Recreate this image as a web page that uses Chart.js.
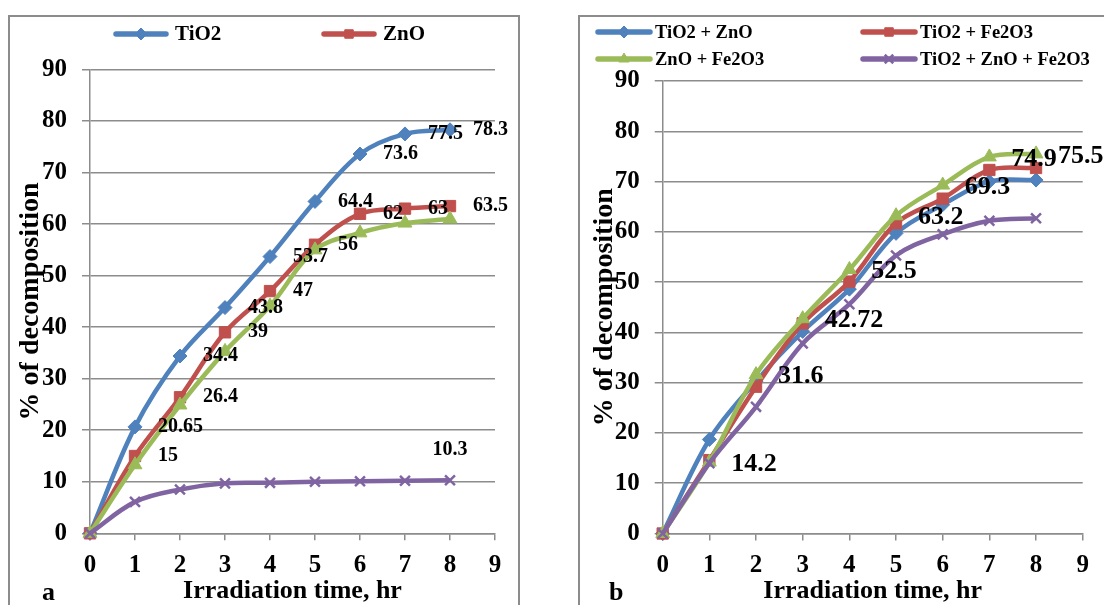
<!DOCTYPE html>
<html><head><meta charset="utf-8">
<script src="https://cdn.jsdelivr.net/npm/chart.js@4/dist/chart.umd.min.js"></script>
<style>
html,body{margin:0;padding:0;background:#fff;width:1104px;height:605px;overflow:hidden;position:relative;}
.frame{position:absolute;border:2px solid #8c8c8c;box-sizing:border-box;}
#frameA{left:8px;top:15px;width:512px;height:640px;}
#frameB{left:578px;top:15px;width:580px;height:640px;}
.wrap{position:absolute;}
#wrapA{left:11px;top:18px;width:506px;height:587px;}
#wrapB{left:580px;top:18px;width:524px;height:587px;}
.tag{position:absolute;font:bold 26px "Liberation Serif",serif;line-height:1;color:#000;}
</style></head>
<body>
<div class="frame" id="frameA"></div>
<div class="frame" id="frameB"></div>
<div class="wrap" id="wrapA"><canvas id="cA" width="506" height="587"></canvas></div>
<div class="wrap" id="wrapB"><canvas id="cB" width="524" height="587"></canvas></div>
<div class="tag" style="left:42px;top:579px">a</div>
<div class="tag" style="left:609px;top:579px">b</div>
<script>
// ---- data ----
const hours = [0, 1, 2, 3, 4, 5, 6, 7, 8];
// panel a
const aTiO2   = [0, 20.65, 34.4, 43.8, 53.7, 64.4, 73.6, 77.5, 78.3];
const aZnO    = [0, 15, 26.4, 39, 47, 56, 62, 63, 63.5];
const aThird  = [0, 13.3, 24.9, 35.3, 44.1, 55.0, 58.3, 60.2, 61.0];
const aFourth = [0, 6.1, 8.5, 9.7, 9.8, 10.0, 10.1, 10.2, 10.3];
// panel b
const bTiO2ZnO     = [0, 18.7, 30.3, 40.2, 48.6, 59.7, 65.4, 70.0, 70.3];
const bTiO2Fe2O3   = [0, 14.6, 29.2, 41.8, 50.1, 61.7, 66.6, 72.3, 72.7];
const bZnOFe2O3    = [0, 14.2, 31.6, 42.72, 52.5, 63.2, 69.3, 74.9, 75.5];
const bTernary     = [0, 14.0, 25.2, 37.8, 45.6, 55.3, 59.5, 62.2, 62.7];
const namesA = ['TiO2', 'ZnO', 'Series 3', 'Series 4'];
const namesB = ['TiO2 + ZnO', 'TiO2 + Fe2O3', 'ZnO + Fe2O3', 'TiO2 + ZnO + Fe2O3'];
const xTitle = 'Irradiation time, hr';
const yTitle = '% of decomposition';

// ---- styles ----
const FONT = '"Liberation Serif", "Times New Roman", serif';
const COLORS = ['#4F81BD', '#C0504D', '#9BBB59', '#8064A2'];
const STYLES = ['rectRot', 'rect', 'triangle', 'crossRot'];
const RADII = [7, 8, 8, 7];
const GRID = '#8c8c8c';

function pts(vals) { return hours.map((h, i) => ({x: h, y: vals[i]})); }

function makeDatasets(names, series) {
  return series.map((vals, i) => ({
    label: names[i],
    data: pts(vals),
    borderColor: COLORS[i],
    backgroundColor: COLORS[i],
    pointStyle: STYLES[i],
    pointRadius: RADII[i],
    pointBorderWidth: i === 3 ? 2.5 : 1,
    pointBackgroundColor: COLORS[i],
    pointBorderColor: COLORS[i],
    borderWidth: 4.5,
    tension: 0.35,
    clip: false,
    order: -i
  }));
}

const valueLabels = {
  id: 'valueLabels',
  afterDatasetsDraw(chart, args, opts) {
    const ctx = chart.ctx;
    (opts.sets || []).forEach(s => {
      const meta = chart.getDatasetMeta(s.dataset);
      const data = chart.data.datasets[s.dataset].data;
      ctx.save();
      ctx.font = 'bold ' + s.size + 'px ' + FONT;
      ctx.fillStyle = '#000';
      ctx.textBaseline = 'middle';
      meta.data.forEach((pt, i) => {
        if (s.points.indexOf(i) < 0) return;
        const txt = String(data[i].y);
        if (s.pos === 'right') {
          ctx.textAlign = 'left';
          ctx.fillText(txt, pt.x + s.dx, pt.y + (s.dy || 0));
        } else {
          ctx.textAlign = 'center';
          ctx.fillText(txt, pt.x, pt.y - s.dy);
        }
      });
      ctx.restore();
    });
  }
};

function drawMarker(ctx, style, r, x, y, color, bw) {
  ctx.save();
  ctx.fillStyle = color; ctx.strokeStyle = color; ctx.lineWidth = bw;
  if (Chart.helpers && Chart.helpers.drawPoint) {
    Chart.helpers.drawPoint(ctx, {pointStyle: style, rotation: 0, radius: r, borderWidth: bw}, x, y);
  }
  ctx.restore();
}

const frameLegend = {
  id: 'frameLegend',
  afterDraw(chart, args, opts) {
    const ctx = chart.ctx;
    (opts.items || []).forEach(it => {
      const ds = chart.data.datasets[it.dataset];
      ctx.save();
      ctx.strokeStyle = ds.borderColor;
      ctx.lineWidth = opts.lineWidth;
      ctx.lineCap = 'round';
      ctx.beginPath();
      ctx.moveTo(it.x + 3, it.y);
      ctx.lineTo(it.x + opts.sample - 3, it.y);
      ctx.stroke();
      ctx.restore();
      drawMarker(ctx, ds.pointStyle, opts.radius, it.x + opts.sample / 2, it.y, ds.borderColor, ds.pointBorderWidth);
      ctx.save();
      ctx.font = 'bold ' + opts.size + 'px ' + FONT;
      ctx.fillStyle = '#000';
      ctx.textAlign = 'left';
      ctx.textBaseline = 'middle';
      ctx.fillText(ds.label, it.x + opts.sample + opts.gap, it.y + 1);
      ctx.restore();
    });
  }
};

function makeOptions(cfg) {
  return {
    responsive: false,
    animation: false,
    layout: {padding: {left: 0, top: cfg.top, right: cfg.right, bottom: 0}},
    plugins: {
      legend: {display: false},
      tooltip: {enabled: false},
      valueLabels: {sets: cfg.labels},
      frameLegend: cfg.legend
    },
    scales: {
      x: {
        type: 'linear', min: 0, max: 9,
        ticks: {stepSize: 1, color: '#000', padding: 10, font: {family: FONT, size: 25, weight: 'bold'}},
        grid: {drawOnChartArea: false, drawTicks: true, tickLength: 7, color: GRID, lineWidth: 1.5},
        border: {color: GRID, width: 1.5},
        title: {display: true, text: xTitle, color: '#000', font: {family: FONT, size: 26, weight: 'bold', lineHeight: 1}, padding: {top: 0, bottom: 1}},
        afterFit(s) { s.height = cfg.xh; }
      },
      y: {
        min: 0, max: 90,
        ticks: {stepSize: 10, color: '#000', padding: 15, font: {family: FONT, size: 25, weight: 'bold'}},
        grid: {color: GRID, lineWidth: 1.5, tickLength: 8},
        border: {color: GRID, width: 1.5},
        title: {display: true, text: yTitle, color: '#000', font: {family: FONT, size: 28, weight: 'bold', lineHeight: 1}, padding: {top: cfg.ytp, bottom: 0}},
        afterFit(s) { s.width = cfg.yw; }
      }
    }
  };
}

new Chart(document.getElementById('cA'), {
  type: 'line',
  data: {datasets: makeDatasets(namesA, [aTiO2, aZnO, aThird, aFourth])},
  options: makeOptions({
    top: 51.5, right: 22, xh: 71.7, yw: 79, ytp: 5.4,
    labels: [
      {dataset: 0, points: [1,2,3,4,5,6,7,8], pos: 'right', dx: 23, size: 20},
      {dataset: 1, points: [1,2,3,4,5,6,7,8], pos: 'right', dx: 23, size: 20},
      {dataset: 3, points: [8], pos: 'above', dy: 30, size: 20}
    ],
    legend: {items: [{dataset: 0, x: 102, y: 16}, {dataset: 1, x: 310, y: 16}], sample: 56, gap: 6, size: 21, lineWidth: 5.5, radius: 6}
  }),
  plugins: [valueLabels, frameLegend]
});

new Chart(document.getElementById('cB'), {
  type: 'line',
  data: {datasets: makeDatasets(namesB, [bTiO2ZnO, bTiO2Fe2O3, bZnOFe2O3, bTernary])},
  options: makeOptions({
    top: 63, right: 21.3, xh: 71.5, yw: 82.7, ytp: 11,
    labels: [
      {dataset: 2, points: [1,2,3,4,5,6,7,8], pos: 'right', dx: 22, dy: 2, size: 26}
    ],
    legend: {items: [{dataset: 0, x: 15, y: 14}, {dataset: 1, x: 280, y: 14}, {dataset: 2, x: 15, y: 41}, {dataset: 3, x: 280, y: 41}], sample: 58, gap: 2, size: 18.5, lineWidth: 5.5, radius: 6}
  }),
  plugins: [valueLabels, frameLegend]
});
</script>
</body></html>
